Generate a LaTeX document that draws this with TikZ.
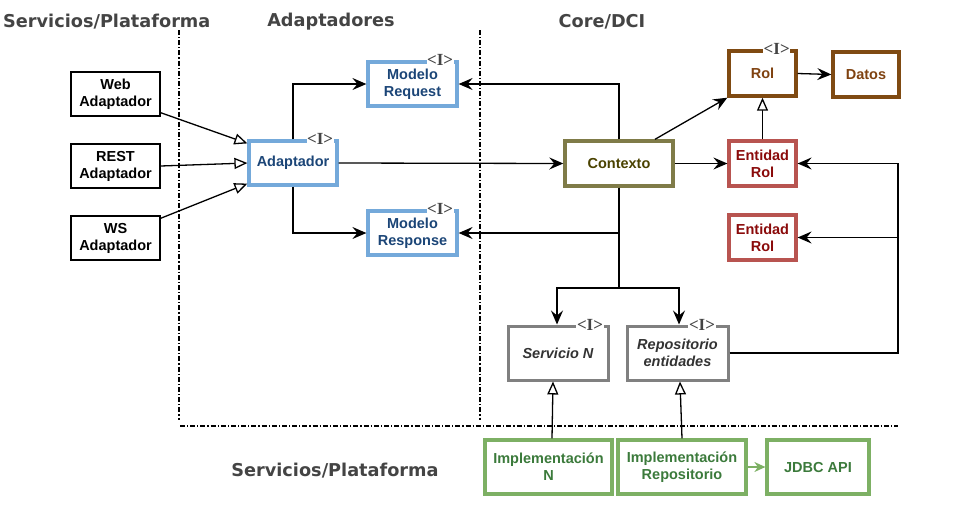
\documentclass[tikz,border=0pt]{standalone}
\usepackage{fontspec}
\setmainfont{Liberation Sans}
\newfontfamily\titlefont{DejaVu Sans}
\newfontfamily\ifacefont{Liberation Serif}
\usetikzlibrary{arrows.meta}
\definecolor{bluestroke}{HTML}{74A9DA}
\definecolor{bluetext}{HTML}{1B4577}
\definecolor{olivestroke}{HTML}{7F7B48}
\definecolor{olivetext}{HTML}{4A4200}
\definecolor{brownstroke}{HTML}{7F4A12}
\definecolor{browntext}{HTML}{7F4210}
\definecolor{redstroke}{HTML}{B85450}
\definecolor{redtext}{HTML}{8A0A0A}
\definecolor{graystroke}{HTML}{808080}
\definecolor{graytext}{HTML}{333333}
\definecolor{greenstroke}{HTML}{7DB064}
\definecolor{greentext}{HTML}{3B7A3B}
\definecolor{titlegray}{HTML}{444444}
\begin{document}
\begin{tikzpicture}[x=1pt,y=-1pt,
  box/.style={draw,rectangle,align=center,font=\fontsize{14.5}{17}\selectfont\bfseries,inner sep=2pt},
  plainbox/.style={box,line width=1.4pt,minimum width=89pt,minimum height=44pt},
  bluebox/.style={box,draw=bluestroke,text=bluetext,line width=3.2pt,minimum width=89pt,minimum height=44pt},
  olivebox/.style={box,draw=olivestroke,text=olivetext,line width=3.4pt},
  brownbox/.style={box,draw=brownstroke,text=browntext,line width=3.4pt,minimum width=67pt,minimum height=45pt},
  redbox/.style={box,draw=redstroke,text=redtext,line width=3.2pt,minimum width=67pt,minimum height=45pt},
  graybox/.style={box,draw=graystroke,text=graytext,line width=3pt,minimum height=54pt,font=\fontsize{14.5}{17}\selectfont\bfseries\itshape},
  greenbox/.style={box,draw=greenstroke,text=greentext,line width=3.2pt,minimum height=54pt},
  iface/.style={fill=white,inner sep=0.6pt,text=titlegray,font=\ifacefont\fontsize{17}{17}\selectfont\bfseries},
  title/.style={text=titlegray,font=\titlefont\fontsize{17.7}{17.7}\selectfont\bfseries,inner sep=0pt},
  sep/.style={line width=1.2pt,dash pattern=on 5pt off 2pt on 1.2pt off 2pt},
  conn/.style={line width=1.3pt,-{Stealth[length=14pt,width=12pt,inset=5pt]}},
  impl/.style={line width=1.3pt,-{Triangle[open,length=13pt,width=11pt,fill=white]}}]
\useasboundingbox (0,0) rectangle (953,512);

\node[title,anchor=west] (tServ) at (3,22) {Servicios/Plataforma};
\node[title] (tAdap) at (331,22) {Adaptadores};
\node[title] (tCore) at (602,22) {Core/DCI};
\node[title] (tServB) at (335,471) {Servicios/Plataforma};

\draw[sep] (179,30) -- (179,420);
\draw[sep] (480,30) -- (480,420);
\draw[sep] (180,426) -- (898,426);

\node[plainbox] (web) at (115.5,94) {Web\\Adaptador};
\node[plainbox] (rest) at (115.5,166) {REST\\Adaptador};
\node[plainbox] (ws) at (115.5,238) {WS\\Adaptador};

\node[bluebox,minimum width=88pt] (adapt) at (293,163) {Adaptador};
\node[bluebox] (mreq) at (412.5,84) {Modelo\\Request};
\node[bluebox] (mresp) at (412.5,233) {Modelo\\Response};

\node[olivebox,minimum width=108pt,minimum height=45pt] (ctx) at (619,163.5) {Contexto};
\node[brownbox] (rol) at (762.5,73.5) {Rol};
\node[brownbox,minimum width=66pt] (datos) at (866,74.5) {Datos};
\node[redbox] (er1) at (762.5,163.5) {Entidad\\Rol};
\node[redbox] (er2) at (762.5,237.5) {Entidad\\Rol};

\node[graybox,minimum width=100pt] (serv) at (558,353) {Servicio N};
\node[graybox,minimum width=101pt] (repo) at (677.5,353) {Repositorio\\entidades};

\node[greenbox,minimum width=127pt] (implN) at (548.5,467) {Implementación\\N};
\node[greenbox,minimum width=128pt] (implR) at (682,467) {Implementación\\Repositorio};
\node[greenbox,minimum width=102pt] (jdbc) at (818,467) {JDBC API};

\node[iface] (adaptI) at ([xshift=-18.5pt]adapt.north east) {<I>};
\node[iface] (mreqI) at ([xshift=-18.5pt]mreq.north east) {<I>};
\node[iface] (mrespI) at ([xshift=-18.5pt]mresp.north east) {<I>};
\node[iface] (rolI) at ([xshift=-21pt]rol.north east) {<I>};
\node[iface] (servI) at ([xshift=-19.5pt]serv.north east) {<I>};
\node[iface] (repoI) at ([xshift=-27.5pt]repo.north east) {<I>};

\draw[impl] ([yshift=4pt]web.south east) -- ([yshift=-4pt]adapt.north west);
\draw[impl] (rest.east) -- (adapt.west);
\draw[impl] ([yshift=-3pt]ws.north east) -- ([yshift=3pt]adapt.south west);

\draw[conn] (adapt.north) |- (mreq.west);
\draw[conn] (adapt.south) |- (mresp.west);
\draw[conn] (adapt.east) -- (ctx.west);

\coordinate (split) at (619,288);
\draw[conn] (ctx.north) |- (mreq.east);
\draw[conn] (ctx.south) |- (mresp.east);
\draw[line width=1.3pt] (ctx.south) -- (split);
\draw[conn] (split) -| ([xshift=-1pt]serv.north);
\draw[conn] (split) -| ([xshift=1.5pt]repo.north);

\draw[conn] ([xshift=36pt]ctx.north) -- (rol.south west);
\draw[conn] (ctx.east) -- (er1.west);
\draw[impl] (er1.north) -- (rol.south);
\draw[conn] (rol.east) -- (datos.west);

\coordinate (bus) at (898,353);
\draw[conn] (repo.east) -- (bus) |- (er1.east);
\draw[conn] (er2.east -| bus) -- (er2.east);

\draw[impl] ([xshift=3.5pt]implN.north) -- ([xshift=-5pt]serv.south);
\draw[impl] (implR.north) -- ([xshift=2.5pt]repo.south);
\draw[line width=1.3pt,draw=greenstroke,-{Stealth[length=11pt,width=10pt,inset=3.5pt]}] (implR.east) -- (jdbc.west);
\end{tikzpicture}
\end{document}
